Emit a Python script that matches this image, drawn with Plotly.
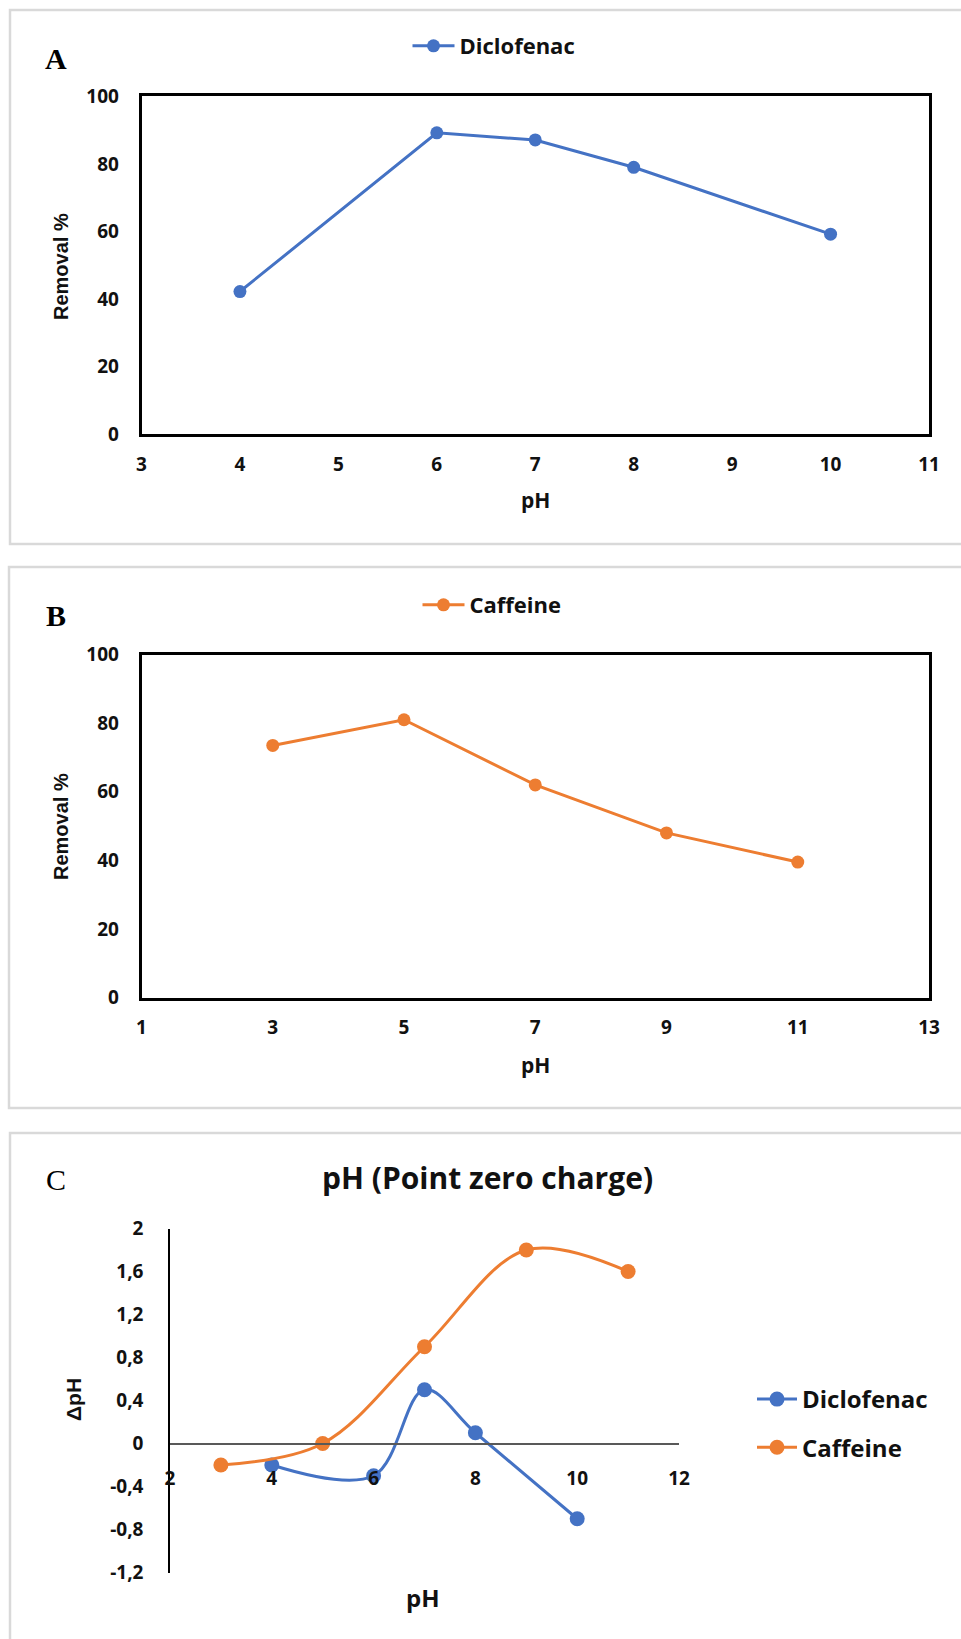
import plotly.graph_objects as go

W, H = 961, 1639

# ---------------- data ----------------
ph_a = [4, 6, 7, 8, 10]
diclofenac_removal = [42.2, 89.2, 87.1, 79.0, 59.2]

ph_b = [3, 5, 7, 9, 11]
caffeine_removal = [73.5, 81.0, 62.0, 48.0, 39.5]

ph_c_diclofenac = [4, 6, 7, 8, 10]
dph_diclofenac = [-0.2, -0.3, 0.5, 0.1, -0.7]
ph_c_caffeine = [3, 5, 7, 9, 11]
dph_caffeine = [-0.2, 0.0, 0.9, 1.8, 1.6]

c_ticks = [-1.2, -0.8, -0.4, 0, 0.4, 0.8, 1.2, 1.6, 2]
c_ticktext = ["-1,2", "-0,8", "-0,4", "0", "0,4", "0,8", "1,2", "1,6", "2"]

BLUE = "#4472C4"
ORANGE = "#ED7D31"
SANS = "Open Sans"
TXT = "#111111"
TICKFONT = dict(family=SANS, size=19, color=TXT, weight="bold")


def px(x):
    return x / W


def py(y):
    return 1 - y / H


fig = go.Figure()

fig.add_trace(go.Scatter(
    x=ph_a, y=diclofenac_removal, name="Diclofenac", mode="lines+markers",
    line=dict(color=BLUE, width=3), marker=dict(color=BLUE, size=13),
    xaxis="x", yaxis="y", legend="legend", showlegend=True))

fig.add_trace(go.Scatter(
    x=ph_b, y=caffeine_removal, name="Caffeine", mode="lines+markers",
    line=dict(color=ORANGE, width=3), marker=dict(color=ORANGE, size=13),
    xaxis="x2", yaxis="y2", legend="legend2", showlegend=True))

fig.add_trace(go.Scatter(
    x=ph_c_diclofenac, y=dph_diclofenac, name="Diclofenac", mode="lines+markers",
    line=dict(color=BLUE, width=3, shape="spline", smoothing=1.0),
    marker=dict(color=BLUE, size=15),
    xaxis="x3", yaxis="y3", legend="legend3", legendgroup="d", showlegend=True))

fig.add_trace(go.Scatter(
    x=ph_c_caffeine, y=dph_caffeine, name="Caffeine", mode="lines+markers",
    line=dict(color=ORANGE, width=3, shape="spline", smoothing=1.0),
    marker=dict(color=ORANGE, size=15),
    xaxis="x3", yaxis="y3", legend="legend3", legendgroup="c", showlegend=True))

frame = dict(showline=True, mirror=True, linecolor="black", linewidth=2.5,
             showgrid=False, zeroline=False, ticks="", tickfont=TICKFONT,
             automargin=False)

layout = dict(
    width=W, height=H,
    margin=dict(l=0, r=0, t=0, b=0, autoexpand=False),
    showlegend=True,
    paper_bgcolor="white", plot_bgcolor="white",
    font=dict(family=SANS, color=TXT),
    xaxis=dict(domain=[px(141.5), px(929)], range=[3, 11], dtick=1,
               anchor="y", ticklabelstandoff=11, **frame),
    yaxis=dict(domain=[py(434), py(96.4)], range=[0, 100], dtick=20,
               anchor="x", ticklabelstandoff=16, **frame),
    xaxis2=dict(domain=[px(141.5), px(929)], range=[1, 13], tick0=1, dtick=2,
                anchor="y2", ticklabelstandoff=11, **frame),
    yaxis2=dict(domain=[py(997.5), py(654.6)], range=[0, 100], dtick=20,
                anchor="x2", ticklabelstandoff=16, **frame),
    xaxis3=dict(domain=[px(170), px(679)], range=[2, 12], dtick=2,
                anchor="free", position=py(1444), showline=True,
                linecolor="#595959", linewidth=1.5, showgrid=False,
                zeroline=False, ticks="", tickfont=TICKFONT,
                ticklabelstandoff=17, automargin=False),
    yaxis3=dict(domain=[py(1572.5), py(1228.5)], range=[-1.2, 2],
                tickvals=c_ticks, ticktext=c_ticktext, anchor="x3",
                showline=True, linecolor="black", linewidth=1.5,
                showgrid=False, zeroline=False, ticks="", tickfont=TICKFONT,
                ticklabelstandoff=21, automargin=False),
    legend=dict(orientation="h", x=px(494), xanchor="center", y=py(46),
                yanchor="middle", itemwidth=42,
                font=dict(family=SANS, size=22, weight="bold", color=TXT),
                bgcolor="rgba(0,0,0,0)"),
    legend2=dict(orientation="h", x=px(492), xanchor="center", y=py(605),
                 yanchor="middle", itemwidth=42,
                 font=dict(family=SANS, size=22, weight="bold", color=TXT),
                 bgcolor="rgba(0,0,0,0)"),
    legend3=dict(orientation="v", x=px(752), xanchor="left", y=py(1423.5),
                 yanchor="middle", itemwidth=40,
                 font=dict(family=SANS, size=24, weight="bold", color=TXT),
                 tracegroupgap=14, bgcolor="rgba(0,0,0,0)"),
)
fig.update_layout(**layout)

# panel frames (light grey)
border = dict(color="#D9D9D9", width=2.5)
fig.add_shape(type="rect", xref="paper", yref="paper", x0=px(10), x1=1.02,
              y0=py(544), y1=py(10), line=border, layer="below")
fig.add_shape(type="rect", xref="paper", yref="paper", x0=px(9), x1=1.02,
              y0=py(1108), y1=py(567), line=border, layer="below")
fig.add_shape(type="rect", xref="paper", yref="paper", x0=px(10), x1=1.02,
              y0=-0.02, y1=py(1133), line=border, layer="below")

# texts
ann = []
for letter, y, wt in [("A", 58, "bold"), ("B", 615, "bold"), ("C", 1179, "normal")]:
    ann.append(dict(text=letter, x=px(56), y=py(y), xref="paper", yref="paper",
                    showarrow=False, xanchor="center", yanchor="middle",
                    font=dict(family="Liberation Serif", size=30, weight=wt,
                              color="black")))
for y in [500, 1065]:
    ann.append(dict(text="pH", x=px(535), y=py(y), xref="paper", yref="paper",
                    showarrow=False, xanchor="center", yanchor="middle",
                    font=dict(family=SANS, size=21, weight="bold", color=TXT)))
ann.append(dict(text="pH", x=px(423), y=py(1597), xref="paper", yref="paper",
                showarrow=False, xanchor="center", yanchor="middle",
                font=dict(family=SANS, size=24, weight="bold", color=TXT)))
for y in [266, 826]:
    ann.append(dict(text="Removal %", x=px(61), y=py(y), xref="paper", yref="paper",
                    showarrow=False, xanchor="center", yanchor="middle", textangle=-90,
                    font=dict(family="Liberation Sans", size=20, weight="bold",
                              color=TXT)))
ann.append(dict(text="ΔpH", x=px(73), y=py(1400), xref="paper", yref="paper",
                showarrow=False, xanchor="center", yanchor="middle", textangle=-90,
                font=dict(family="Liberation Sans", size=21, weight="bold",
                          color=TXT)))
ann.append(dict(text="pH (Point zero charge)", x=px(488), y=py(1177),
                xref="paper", yref="paper", showarrow=False, xanchor="center",
                yanchor="middle",
                font=dict(family=SANS, size=30, weight="bold", color=TXT)))
fig.update_layout(annotations=ann)

fig.write_html("out.html",
               config={"displayModeBar": False},
               post_script="document.body.style.margin='0px';"
                           "document.body.style.overflow='hidden';")
